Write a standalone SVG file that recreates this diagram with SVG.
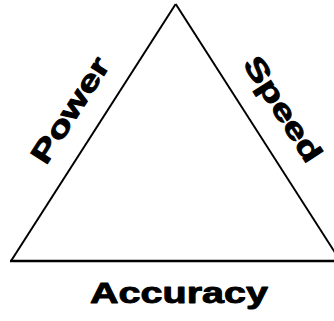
<svg xmlns="http://www.w3.org/2000/svg" width="334" height="321" viewBox="0 0 334 321">
<style>
.lbl{font-family:"Liberation Sans",Arial,sans-serif;font-weight:bold;font-size:29px;fill:#000;stroke:#000;stroke-width:0.9;stroke-linejoin:round;text-anchor:middle}
.edge{stroke:#000;fill:none;stroke-linecap:butt}
</style>
<rect width="334" height="321" fill="#fff"/>
<g id="connectors">
<line class="edge" x1="175.7" y1="4" x2="11" y2="261" stroke-width="2"/>
<line class="edge" x1="175.7" y1="4" x2="340.4" y2="261" stroke-width="2"/>
<line class="edge" x1="10" y1="261" x2="340" y2="261" stroke-width="2.5"/>
</g>
<g id="power"><text class="lbl" transform="translate(78.4,115.4) rotate(-57.3)" textLength="120" lengthAdjust="spacingAndGlyphs">Power</text></g>
<g id="speed"><text class="lbl" transform="translate(274.6,114.4) rotate(57.3)" textLength="120" lengthAdjust="spacingAndGlyphs">Speed</text></g>
<g id="accuracy"><text class="lbl" x="179" y="303" textLength="178" lengthAdjust="spacingAndGlyphs">Accuracy</text></g>
</svg>
